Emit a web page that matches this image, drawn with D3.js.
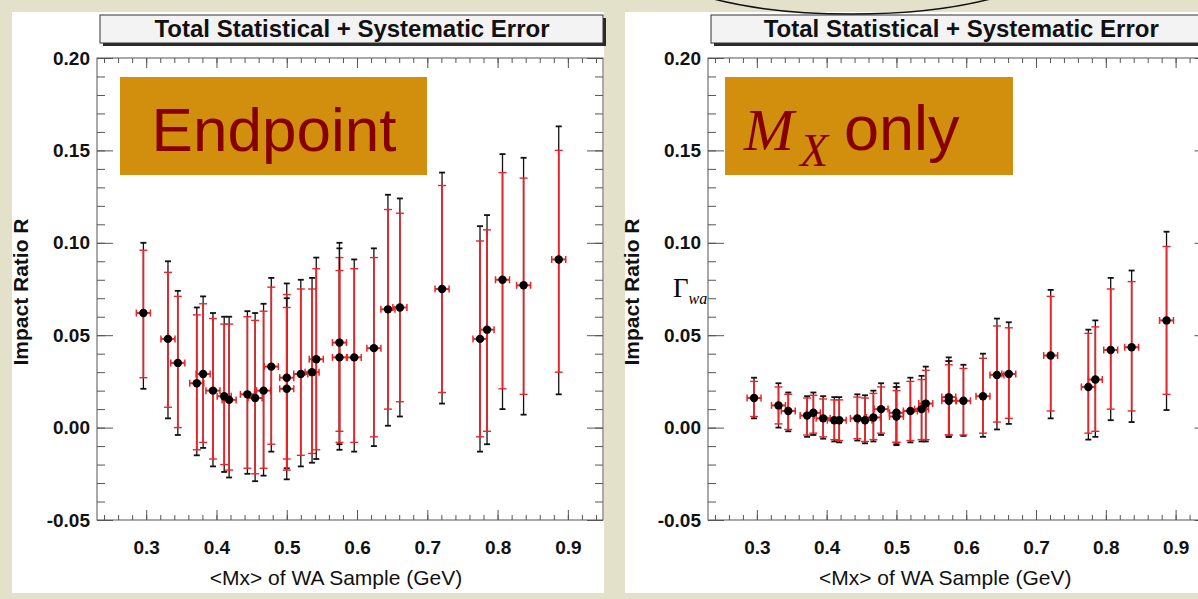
<!DOCTYPE html>
<html>
<head>
<meta charset="utf-8">
<script src="https://cdn.jsdelivr.net/npm/d3@7"></script>
<style>
  html, body { margin: 0; padding: 0; background: #e4e1cb; }
  svg { display: block; }
</style>
</head>
<body>
<svg id="chart" width="1198" height="599"></svg>
<script>
// ---------------- data ----------------
const titleText = "Total Statistical + Systematic Error";
const yAxisLabel = "Impact Ratio R";
const xAxisLabel = "<Mx> of WA Sample (GeV)";
const xTickLabels = [0.3, 0.4, 0.5, 0.6, 0.7, 0.8, 0.9];
const yTickLabels = [-0.05, 0.00, 0.05, 0.10, 0.15, 0.20];
const xHalfWidth = [0.01];

// <Mx> of each WA sample (shared by both panels)
const mxValues = [0.296, 0.331, 0.345, 0.372, 0.381, 0.395, 0.411, 0.418, 0.444, 0.455,
                  0.467, 0.478, 0.500, 0.500, 0.520, 0.536, 0.542, 0.575, 0.575, 0.596,
                  0.624, 0.644, 0.661, 0.721, 0.775, 0.785, 0.807, 0.837, 0.887];

// Endpoint panel
const endR       = [0.062, 0.048, 0.035, 0.024, 0.029, 0.020, 0.017, 0.015, 0.018, 0.016,
                    0.020, 0.033, 0.027, 0.021, 0.029, 0.030, 0.037, 0.046, 0.038, 0.038,
                    0.043, 0.064, 0.065, 0.075, 0.048, 0.053, 0.080, 0.077, 0.091];
const endTotLo   = [0.021, 0.005, -0.004, -0.015, -0.011, -0.021, -0.024, -0.027, -0.025, -0.029,
                    -0.026, -0.013, -0.022, -0.028, -0.021, -0.019, -0.017, -0.009, -0.012, -0.013,
                    -0.010, 0.001, 0.006, 0.013, -0.013, -0.009, 0.010, 0.007, 0.018];
const endTotHi   = [0.100, 0.090, 0.074, 0.065, 0.071, 0.062, 0.060, 0.060, 0.063, 0.062,
                    0.067, 0.081, 0.078, 0.070, 0.080, 0.081, 0.092, 0.100, 0.097, 0.091,
                    0.097, 0.126, 0.124, 0.138, 0.109, 0.115, 0.148, 0.146, 0.163];
const endStatLo  = [0.027, 0.011, 0.000, -0.012, -0.008, -0.017, -0.020, -0.023, -0.022, -0.025,
                    -0.022, -0.009, -0.017, -0.023, -0.015, -0.014, -0.012, -0.002, -0.008, -0.008,
                    -0.005, 0.010, 0.014, 0.019, -0.005, -0.002, 0.021, 0.018, 0.030];
const endStatHi  = [0.096, 0.084, 0.071, 0.061, 0.067, 0.059, 0.056, 0.056, 0.060, 0.058,
                    0.063, 0.076, 0.072, 0.065, 0.075, 0.075, 0.086, 0.092, 0.085, 0.086,
                    0.092, 0.118, 0.116, 0.131, 0.101, 0.107, 0.138, 0.135, 0.150];

// Mx-only panel
const mxR        = [0.016, 0.012, 0.009, 0.0065, 0.008, 0.005, 0.004, 0.004, 0.005, 0.004,
                    0.0055, 0.010, 0.008, 0.006, 0.009, 0.010, 0.013, 0.0165, 0.0145, 0.0145,
                    0.017, 0.0285, 0.029, 0.039, 0.022, 0.026, 0.042, 0.0435, 0.058];
const mxTotLo    = [0.005, 0.000, -0.002, -0.005, -0.004, -0.006, -0.0075, -0.008, -0.007, -0.0085,
                    -0.0075, -0.004, -0.009, -0.0095, -0.008, -0.0075, -0.0075, -0.005, -0.005, -0.0045,
                    -0.005, -0.001, 0.002, 0.005, -0.0065, -0.005, 0.004, 0.003, 0.0095];
const mxTotHi    = [0.027, 0.024, 0.019, 0.017, 0.019, 0.017, 0.0165, 0.0165, 0.018, 0.0175,
                    0.020, 0.024, 0.024, 0.022, 0.027, 0.028, 0.033, 0.038, 0.036, 0.034,
                    0.040, 0.059, 0.057, 0.0745, 0.053, 0.058, 0.081, 0.085, 0.106];
const mxStatLo   = [0.006, 0.002, -0.001, -0.004, -0.003, -0.005, -0.0065, -0.007, -0.006, -0.0075,
                    -0.0065, -0.003, -0.008, -0.008, -0.007, -0.0065, -0.0065, -0.004, -0.004, -0.004,
                    -0.003, 0.003, 0.005, 0.009, -0.003, -0.002, 0.010, 0.009, 0.018];
const mxStatHi   = [0.025, 0.022, 0.018, 0.016, 0.0175, 0.0155, 0.015, 0.015, 0.0165, 0.016,
                    0.0185, 0.022, 0.022, 0.020, 0.025, 0.026, 0.031, 0.036, 0.034, 0.032,
                    0.0375, 0.055, 0.054, 0.071, 0.051, 0.0545, 0.075, 0.079, 0.098];

// ---------------- drawing ----------------
const svg = d3.select("#chart");
const FONT = "'Liberation Sans', Arial, Helvetica, sans-serif";
const SERIF = "'Liberation Serif', 'Times New Roman', serif";

// white panel backgrounds
svg.append("rect").attr("x", 12).attr("y", 12).attr("width", 592).attr("height", 581).attr("fill", "#ffffff");
svg.append("rect").attr("x", 625).attr("y", 12).attr("width", 573).attr("height", 581).attr("fill", "#ffffff");

function drawPanel(opt) {
  const g = svg.append("g");
  const x = d3.scaleLinear().domain([0.23, 0.95]).range([opt.left, opt.right]);
  const y = d3.scaleLinear().domain([-0.05, 0.20]).range([520, 58]);

  // title box with shadow
  g.append("rect").attr("x", opt.left + 6).attr("y", 18).attr("width", opt.right - opt.left - 3).attr("height", 28).attr("fill", "#2a2a2a");
  g.append("rect").attr("x", opt.left + 3).attr("y", 15).attr("width", opt.right - opt.left - 3).attr("height", 28)
    .attr("fill", "#f3f3f3").attr("stroke", "#333").attr("stroke-width", 1);
  g.append("text").attr("x", (opt.left + opt.right) / 2 + 2).attr("y", 37).attr("text-anchor", "middle")
    .attr("font-family", FONT).attr("font-weight", "bold").attr("font-size", 24).attr("fill", "#111")
    .text(titleText);

  // frame
  g.append("rect").attr("x", opt.left).attr("y", 58).attr("width", opt.right - opt.left).attr("height", 462)
    .attr("fill", "none").attr("stroke", "#555").attr("stroke-width", 1);

  const yMinor = d3.range(-50, 201, 10).map(v => v / 1000);
  const xMinor = d3.range(24, 95, 2).map(v => v / 100);
  const tickStyle = sel => { sel.select(".domain").remove(); sel.selectAll("line").attr("stroke", "#555"); };

  // y axes (ticks inward)
  g.append("g").attr("transform", `translate(${opt.left},0)`)
    .call(d3.axisLeft(y).tickValues(yMinor).tickSizeInner(-8).tickSizeOuter(0).tickFormat(""))
    .call(tickStyle);
  const yl = g.append("g").attr("transform", `translate(${opt.left},0)`)
    .call(d3.axisLeft(y).tickValues(yTickLabels).tickSizeInner(-16).tickSizeOuter(0).tickPadding(7)
      .tickFormat(d => d.toFixed(2)))
    .call(tickStyle);
  yl.selectAll("text").attr("font-family", FONT).attr("font-weight", "bold").attr("font-size", 19).attr("fill", "#111");

  g.append("g").attr("transform", `translate(${opt.right},0)`)
    .call(d3.axisRight(y).tickValues(yMinor).tickSizeInner(-8).tickSizeOuter(0).tickFormat(""))
    .call(tickStyle);
  g.append("g").attr("transform", `translate(${opt.right},0)`)
    .call(d3.axisRight(y).tickValues(yTickLabels).tickSizeInner(-16).tickSizeOuter(0).tickFormat(""))
    .call(tickStyle);

  // x axes
  g.append("g").attr("transform", `translate(0,520)`)
    .call(d3.axisBottom(x).tickValues(xMinor).tickSizeInner(-5).tickSizeOuter(0).tickFormat(""))
    .call(tickStyle);
  const xl = g.append("g").attr("transform", `translate(0,520)`)
    .call(d3.axisBottom(x).tickValues(xTickLabels).tickSizeInner(-10).tickSizeOuter(0).tickPadding(21)
      .tickFormat(d => d.toFixed(1)))
    .call(tickStyle);
  xl.selectAll("text").attr("font-family", FONT).attr("font-weight", "bold").attr("font-size", 19).attr("fill", "#111");

  g.append("g").attr("transform", `translate(0,58)`)
    .call(d3.axisTop(x).tickValues(xMinor).tickSizeInner(-5).tickSizeOuter(0).tickFormat(""))
    .call(tickStyle);
  g.append("g").attr("transform", `translate(0,58)`)
    .call(d3.axisTop(x).tickValues(xTickLabels).tickSizeInner(-10).tickSizeOuter(0).tickFormat(""))
    .call(tickStyle);

  // axis titles
  g.append("text").attr("transform", `translate(${opt.left - 69},292) rotate(-90)`).attr("text-anchor", "middle")
    .attr("font-family", FONT).attr("font-weight", "bold").attr("font-size", 21).attr("fill", "#111")
    .text(yAxisLabel);
  g.append("text").attr("x", (opt.left + opt.right) / 2 - 14).attr("y", 585).attr("text-anchor", "middle")
    .attr("font-family", FONT).attr("font-size", 21).attr("fill", "#111")
    .text(xAxisLabel);

  // data
  const pts = mxValues.map((m, i) => ({
    m, r: opt.r[i], tlo: opt.tlo[i], thi: opt.thi[i], slo: opt.slo[i], shi: opt.shi[i]
  }));
  const dg = g.append("g");
  const hw = xHalfWidth[0];
  pts.forEach(p => {
    const cx = x(p.m);
    // total error (black)
    dg.append("line").attr("x1", cx).attr("x2", cx).attr("y1", y(p.tlo)).attr("y2", y(p.thi))
      .attr("stroke", "#111").attr("stroke-width", 1.3);
    [p.tlo, p.thi].forEach(v => dg.append("line").attr("x1", cx - 3).attr("x2", cx + 3).attr("y1", y(v)).attr("y2", y(v))
      .attr("stroke", "#111").attr("stroke-width", 1.8));
    // stat error (red)
    dg.append("line").attr("x1", cx).attr("x2", cx).attr("y1", y(p.slo)).attr("y2", y(p.shi))
      .attr("stroke", "#e8262a").attr("stroke-width", 1.8);
    [p.slo, p.shi].forEach(v => dg.append("line").attr("x1", cx - 4).attr("x2", cx + 4).attr("y1", y(v)).attr("y2", y(v))
      .attr("stroke", "#e8262a").attr("stroke-width", 1.4));
    // horizontal bar
    const xa = x(p.m - hw), xb = x(p.m + hw), cy = y(p.r);
    dg.append("line").attr("x1", xa).attr("x2", xb).attr("y1", cy).attr("y2", cy)
      .attr("stroke", "#e8262a").attr("stroke-width", 2);
    [xa, xb].forEach(xx => dg.append("line").attr("x1", xx).attr("x2", xx).attr("y1", cy - 3.5).attr("y2", cy + 3.5)
      .attr("stroke", "#e8262a").attr("stroke-width", 1.5));
  });
  dg.selectAll("circle.pt").data(pts).join("circle").attr("class", "pt")
    .attr("cx", d => x(d.m)).attr("cy", d => y(d.r)).attr("r", 4.2).attr("fill", "#000");

  // label box
  g.append("rect").attr("x", opt.left + opt.boxDx).attr("y", 77).attr("width", opt.boxW).attr("height", 98)
    .attr("fill", "#d28e0d");
  return g;
}

const gL = drawPanel({ left: 97, right: 603, r: endR, tlo: endTotLo, thi: endTotHi, slo: endStatLo, shi: endStatHi,
  boxDx: 23, boxW: 307 });
gL.append("text").attr("x", 274).attr("y", 151).attr("text-anchor", "middle")
  .attr("font-family", FONT).attr("font-size", 62).attr("fill", "#860000").text("Endpoint");

const gR = drawPanel({ left: 708, right: 1210.5, r: mxR, tlo: mxTotLo, thi: mxTotHi, slo: mxStatLo, shi: mxStatHi,
  boxDx: 17, boxW: 288 });
// "M_X" as separate text elements, "only" in sans-serif
gR.append("text").attr("x", 744).attr("y", 150).attr("fill", "#860000").attr("font-size", 60)
  .attr("font-family", SERIF).attr("font-style", "italic").text("M");
gR.append("text").attr("x", 800).attr("y", 166).attr("fill", "#860000").attr("font-size", 46)
  .attr("font-family", SERIF).attr("font-style", "italic").text("X");
gR.append("text").attr("x", 844).attr("y", 150).attr("fill", "#860000").attr("font-size", 63)
  .attr("font-family", FONT).text("only");

// Gamma_wa annotation
const gam = svg.append("text").attr("x", 673).attr("y", 297).attr("fill", "#000")
  .attr("font-family", SERIF).attr("font-size", 27);
gam.append("tspan").text("Γ");
gam.append("tspan").attr("font-style", "italic").attr("font-size", 16).attr("dy", 7).text("wa");

// callout ellipse at the top
svg.append("ellipse").attr("cx", 852).attr("cy", -40).attr("rx", 200).attr("ry", 54)
  .attr("fill", "none").attr("stroke", "#111").attr("stroke-width", 1.5);
</script>
</body>
</html>
